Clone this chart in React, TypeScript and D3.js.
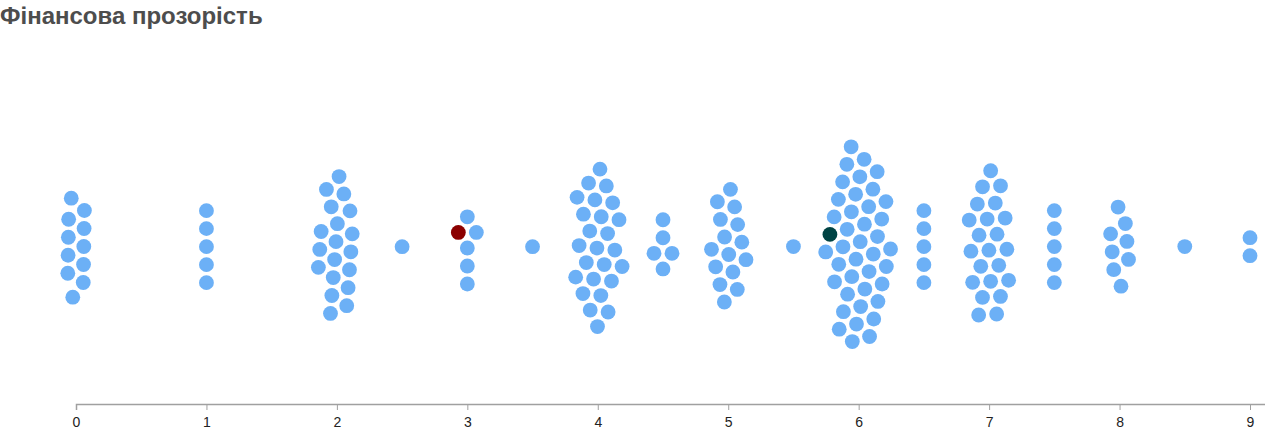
import { useEffect, useRef } from "react";
import * as d3 from "d3";

const scoreValues = [0, 1, 2, 2.5, 3, 3.5, 4, 4.5, 5, 5.5, 6, 6.5, 7, 7.5, 8, 8.5, 9];
const scoreCounts = [11, 5, 19, 1, 6, 1, 25, 5, 15, 1, 40, 5, 22, 5, 8, 1, 2];

// the two highlighted entries
const highlightValues = [3, 6];
const highlightColors = ["#8b0000", "#004343"];

const tickValues = [0, 1, 2, 3, 4, 5, 6, 7, 8, 9];
const TITLE = "Фінансова прозорість";

interface Dot {
  value: number;
  color: string;
  x?: number;
  y?: number;
}

const WIDTH = 1265;
const HEIGHT = 431;
const AXIS_Y = 404;
const CENTER_Y = 247;
const R = 7.4;
const BLUE = "#6cb0f6";

export default function App() {
  const svgRef = useRef<SVGSVGElement>(null);

  useEffect(() => {
    if (!svgRef.current) return;
    const svg = d3.select(svgRef.current);
    svg.selectAll("*").remove();

    const x = d3.scaleLinear().domain([0, 9.2]).range([76, 76 + (1174 / 9) * 9.2]);

    const dots: Dot[] = [];
    scoreValues.forEach((v, i) => {
      for (let k = 0; k < scoreCounts[i]; k++) dots.push({ value: v, color: BLUE });
    });

    const sim = d3
      .forceSimulation(dots as d3.SimulationNodeDatum[])
      .force("x", d3.forceX<any>((d) => x(d.value)).strength(1))
      .force("y", d3.forceY(CENTER_Y).strength(0.085))
      .force("collide", d3.forceCollide(9))
      .stop();
    for (let i = 0; i < 400; i++) sim.tick();

    // highlighted entry: the leftmost dot of its bucket sitting above the middle line
    highlightValues.forEach((v, i) => {
      const pick = d3.least(
        dots.filter((d) => d.value === v && (d.y ?? 0) < CENTER_Y),
        (d) => d.x ?? 0
      );
      if (pick) pick.color = highlightColors[i];
    });

    svg
      .append("text")
      .attr("x", 0)
      .attr("y", 24)
      .attr("font-family", "'Liberation Sans', Arial, sans-serif")
      .attr("font-weight", "bold")
      .attr("font-size", "24px")
      .attr("fill", "#4d4d4d")
      .text(TITLE);

    svg
      .append("g")
      .selectAll("circle")
      .data(dots)
      .join("circle")
      .attr("cx", (d) => d.x ?? 0)
      .attr("cy", (d) => d.y ?? 0)
      .attr("r", R)
      .attr("fill", (d) => d.color);

    const axis = d3.axisBottom(x).tickValues(tickValues).tickFormat(d3.format("d"));
    const gx = svg.append("g").attr("transform", `translate(0,${AXIS_Y})`).call(axis);
    gx.select(".domain").attr("stroke", "#a0a0a0").attr("stroke-width", 1.5);
    gx.selectAll(".tick line").attr("stroke", "#a0a0a0");
    gx.selectAll(".tick text")
      .attr("y", 13)
      .attr("font-family", "'Liberation Sans', Arial, sans-serif")
      .attr("font-size", "14px")
      .attr("fill", "#222");
  }, []);

  return (
    <svg
      ref={svgRef}
      width={WIDTH}
      height={HEIGHT}
      style={{ position: "absolute", left: 0, top: 0, display: "block" }}
    />
  );
}
